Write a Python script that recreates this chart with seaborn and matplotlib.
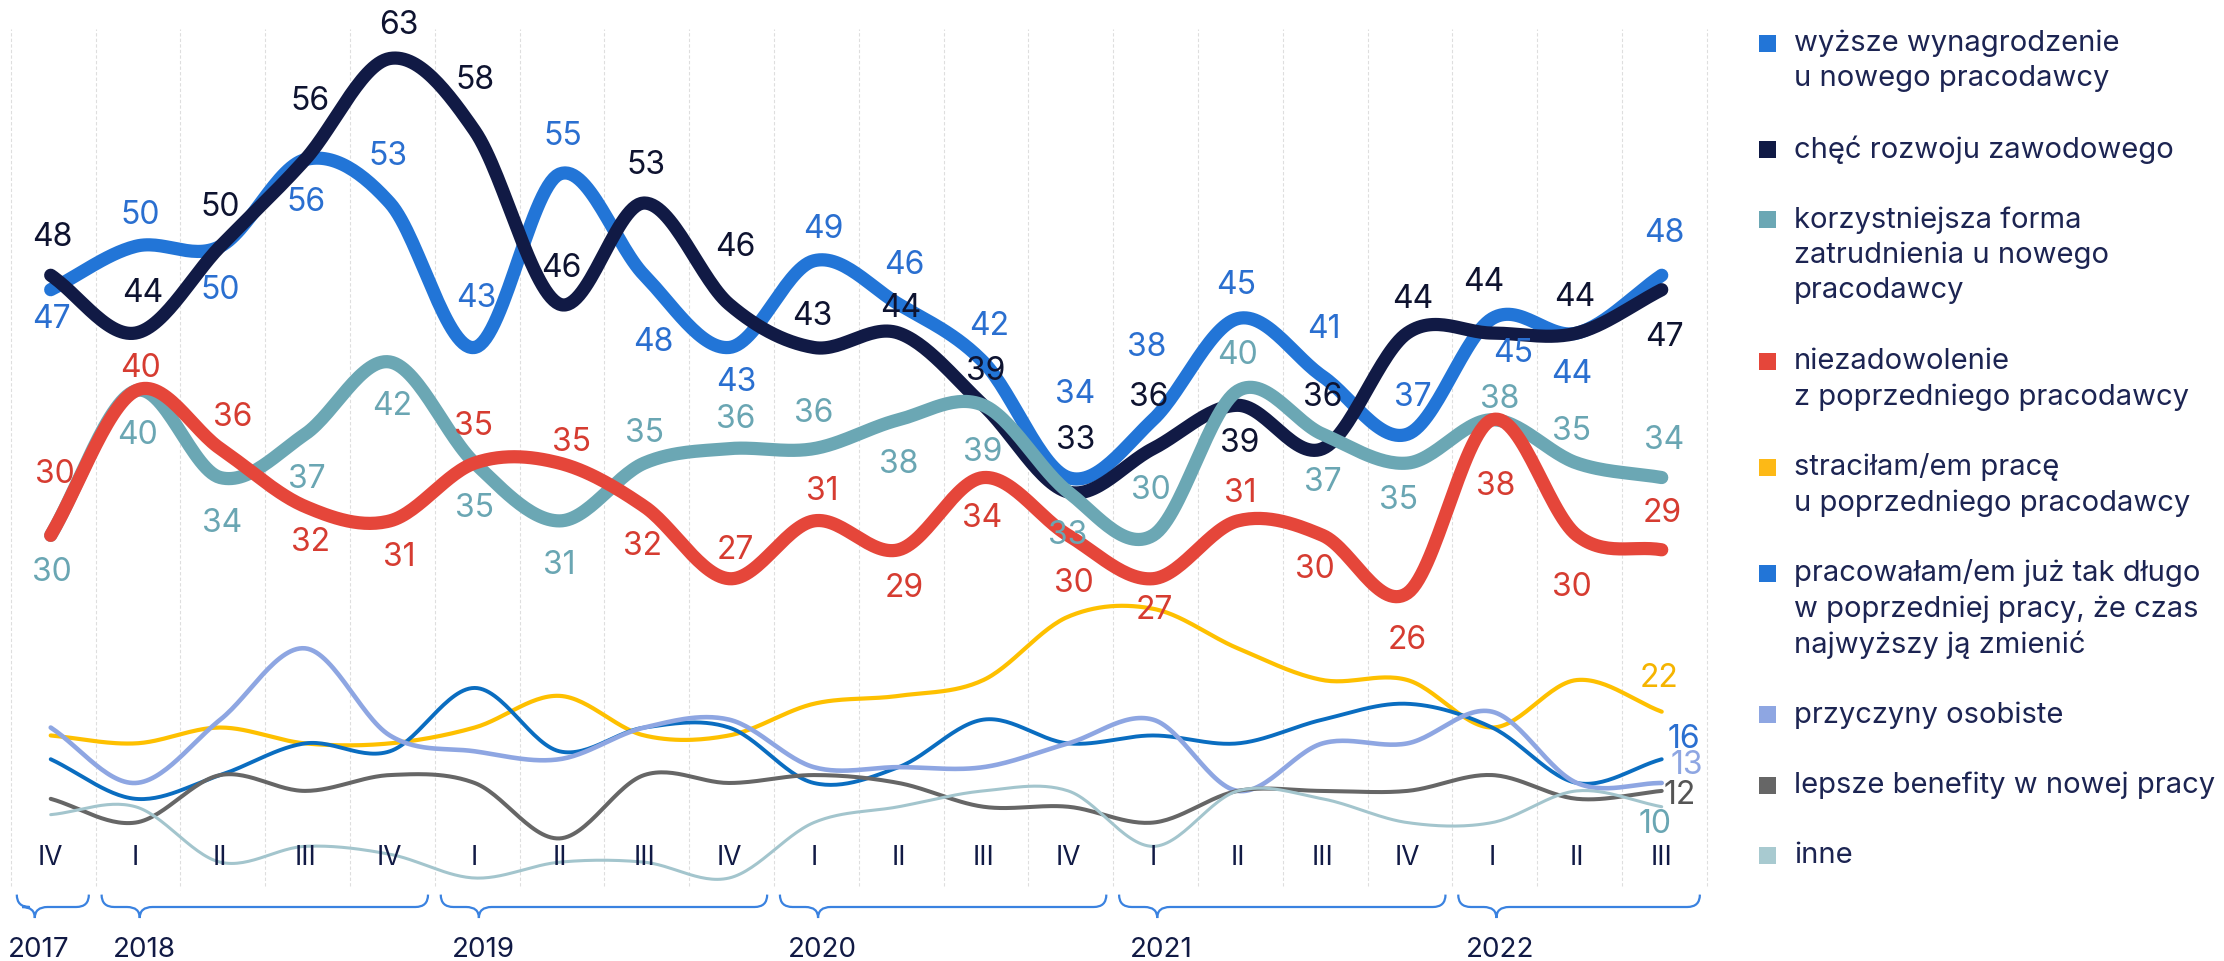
import numpy as np
import pandas as pd
import seaborn as sns
import matplotlib.pyplot as plt
import matplotlib.transforms as mtransforms
from matplotlib.path import Path
from matplotlib.patches import PathPatch, Rectangle

# ---- data -------------------------------------------------------------
quarters = ['IV', 'I', 'II', 'III', 'IV', 'I', 'II', 'III', 'IV', 'I',
            'II', 'III', 'IV', 'I', 'II', 'III', 'IV', 'I', 'II', 'III']
quarter_years = [2017, 2018, 2018, 2018, 2018, 2019, 2019, 2019, 2019, 2020,
                 2020, 2020, 2020, 2021, 2021, 2021, 2021, 2022, 2022, 2022]

# main series (labelled)
wyzsze = [47, 50, 50, 56, 53, 43, 55, 48, 43, 49, 46, 42, 34, 38, 45, 41, 37, 45, 44, 48]
rozwoj = [48, 44, 50, 56, 63, 58, 46, 53, 46, 43, 44, 39, 33, 36, 39, 36, 44, 44, 44, 47]
forma = [30, 40, 34, 37, 42, 35, 31, 35, 36, 36, 38, 39, 33, 30, 40, 37, 35, 38, 35, 34]
niezad = [30, 40, 36, 32, 31, 35, 35, 32, 27, 31, 29, 34, 30, 27, 31, 30, 26, 38, 30, 29]

# minor series (only last value labelled)
stracil = [19, 18, 20, 18, 18, 20, 24, 19, 19, 23, 24, 26, 34, 35, 30, 26, 26, 20, 26, 22]
dlugo = [16, 11, 14, 18, 17, 25, 17, 20, 20, 13, 15, 21, 18, 19, 18, 21, 23, 20, 13, 16]
osobiste = [20, 13, 21, 30, 19, 17, 16, 20, 21, 15, 15, 15, 18, 21, 12, 18, 18, 22, 13, 13]
benefity = [11, 8, 14, 12, 14, 13, 6, 14, 13, 14, 13, 10, 10, 8, 12, 12, 12, 14, 11, 12]
inne = [9, 10, 3, 5, 4, 1, 3, 3, 1, 8, 10, 12, 12, 5, 12, 11, 8, 8, 12, 10]

legend_labels = [
    'wyższe wynagrodzenie\nu nowego pracodawcy',
    'chęć rozwoju zawodowego',
    'korzystniejsza forma\nzatrudnienia u nowego\npracodawcy',
    'niezadowolenie\nz poprzedniego pracodawcy',
    'straciłam/em pracę\nu poprzedniego pracodawcy',
    'pracowałam/em już tak długo\nw poprzedniej pracy, że czas\nnajwyższy ją zmienić',
    'przyczyny osobiste',
    'lepsze benefity w nowej pracy',
    'inne',
]
legend_colors = ['#2275d7', '#101a45', '#6ba7b4', '#e5463a', '#fdb916',
                 '#2275d7', '#8ea6e2', '#666666', '#a8cad0']

# ---- label offsets (pixels, dx right / dy down) ------------------------
off_wyzsze = [(1, 30), (5, -31), (0, 44), (1, 43), (-2, -46), (2, -49), (3, -38), (9, 67),
              (7, 35), (9, -31), (6, -39), (6, -35), (7, -83), (-6, -72), (-2, -33),
              (1, -47), (5, -37), (21, 35), (-5, 41), (3, -42)]
off_rozwoj = [(2, -38), (7, -40), (0, -39), (5, -58), (9, -33), (0, -50), (2, -36), (2, -37),
              (6, -57), (-2, -31), (2, -25), (2, -34), (7, -51), (-4, -51), (2, 38),
              (0, -51), (5, -34), (-8, -51), (-2, -36), (3, 48)]
off_forma = [(1, 37), (2, 45), (2, 46), (2, 45), (2, 45), (0, 45), (0, 45), (0, -30),
             (7, -29), (0, -35), (0, 45), (-1, 47), (-1, 44), (-2, -45), (0, -35),
             (0, 48), (-9, 37), (8, -20), (-5, -32), (2, -37)]
off_niezad = [(4, -61), (5, -22), (12, -31), (5, 36), (9, 37), (-1, -37), (12, -21), (-2, 40),
              (6, -28), (8, -29), (6, 39), (-1, 41), (6, 48), (1, 32), (2, -27),
              (-8, 34), (0, 47), (4, 67), (-5, 52), (0, -36)]


def smooth(vals, n=30):
    """Catmull-Rom curve through the points (for drawing only)."""
    y = np.asarray(vals, dtype=float)
    m = np.gradient(y)
    xs, ys = [], []
    t = np.linspace(0, 1, n, endpoint=False)
    h00 = 2 * t**3 - 3 * t**2 + 1
    h10 = t**3 - 2 * t**2 + t
    h01 = -2 * t**3 + 3 * t**2
    h11 = t**3 - t**2
    for i in range(len(y) - 1):
        xs.append(i + t)
        ys.append(h00 * y[i] + h10 * m[i] + h01 * y[i + 1] + h11 * m[i + 1])
    xs.append([len(y) - 1])
    ys.append([y[-1]])
    return pd.DataFrame({'x': np.concatenate(xs), 'y': np.concatenate(ys)})


sns.set_theme(style='white')
plt.rcParams['font.family'] = ['Inter', 'DejaVu Sans']

W, H = 2224, 961
fig = plt.figure(figsize=(W / 100, H / 100), dpi=100)
rect = [0, 61 / H, 1712.6 / W, 880 / H]
ax_minor = fig.add_axes(rect)
ax = fig.add_axes(rect)
ax.patch.set_alpha(0)

# vertical grid lines between quarters
for k in range(len(quarters) + 1):
    ax_minor.axvline(k - 0.47, ymin=0.016, ymax=0.99, color='#dedede', lw=0.8,
                     ls=(0, (3, 2)), zorder=0)

# minor series
minor = [
    (stracil, '#fec000', 3.0, '#f5b400', (-3, -33)),
    (dlugo, '#0a6dc0', 2.8, '#2a6fd0', (22, -20)),
    (osobiste, '#8ea6e2', 3.3, '#8ea6e2', (25, -17)),
    (benefity, '#666666', 2.9, '#555555', (18, 5)),
    (inne, '#a3c5cd', 2.2, '#6aa6b3', (-7, 18)),
]
for vals, col, lw, tcol, (dx, dy) in minor:
    sns.lineplot(data=smooth(vals), x='x', y='y', ax=ax_minor, color=col, linewidth=lw,
                 sort=False, estimator=None, legend=False, solid_capstyle='round')
    ax_minor.annotate(str(vals[-1]), xy=(len(vals) - 1, vals[-1]), xytext=(dx, -dy),
                      textcoords='offset pixels', ha='center', va='center',
                      fontsize=23, color=tcol)

# main series
main = [
    (wyzsze, '#2275d7', '#2a6fd0', off_wyzsze),
    (rozwoj, '#111a45', '#0e1330', off_rozwoj),
    (forma, '#6ba7b4', '#6aa6b3', off_forma),
    (niezad, '#e5463a', '#d63c31', off_niezad),
]
for vals, col, tcol, offs in main:
    sns.lineplot(data=smooth(vals), x='x', y='y', ax=ax, color=col, linewidth=9.5,
                 sort=False, estimator=None, legend=False, solid_capstyle='round')
for vals, col, tcol, offs in main:
    for i, v in enumerate(vals):
        dx, dy = offs[i]
        ax.annotate(str(v), xy=(i, v), xytext=(dx, -dy), textcoords='offset pixels',
                    ha='center', va='center', fontsize=23, color=tcol, zorder=5)

for a in (ax, ax_minor):
    a.set_xlim(-0.598, 19.6)
    a.axis('off')
ax.set_ylim(4.765, 65.664)
ax_minor.set_ylim(-1.775, 109.336)

# quarter and year labels with braces
trans = mtransforms.blended_transform_factory(ax.transData, ax.transAxes)
for i, q in enumerate(quarters):
    ax.text(i, (900 - 858) / 880, q, transform=trans, ha='center', va='center',
            fontsize=19, color='#111a45')

y_top, y_bar, y_tip = (900 - 894.6) / 880, (900 - 907) / 880, (900 - 918) / 880
r = 0.15
for yr in sorted(set(quarter_years)):
    idx = [i for i, y in enumerate(quarter_years) if y == yr]
    x0, x1 = idx[0] - 0.4, idx[-1] + 0.45
    xt = x0 + min(0.45, 0.25 * (x1 - x0))
    verts = [(x0, y_top), (x0, y_bar), (x0 + r, y_bar), (xt - r, y_bar),
             (xt, y_bar), (xt, y_tip), (xt, y_bar), (xt + r, y_bar),
             (x1 - r, y_bar), (x1, y_bar), (x1, y_top)]
    codes = [Path.MOVETO, Path.CURVE3, Path.CURVE3, Path.LINETO,
             Path.CURVE3, Path.CURVE3, Path.CURVE3, Path.CURVE3,
             Path.LINETO, Path.CURVE3, Path.CURVE3]
    ax.add_patch(PathPatch(Path(verts, codes), transform=trans, fill=False,
                           edgecolor='#3a82e0', lw=1.6, clip_on=False))
    ax.text(xt + 0.05, (900 - 950) / 880, str(yr), transform=trans, ha='center',
            va='center', fontsize=20, color='#111a45', clip_on=False)

# legend on the right
y = 43.3
for lab, col in zip(legend_labels, legend_colors):
    fig.add_artist(Rectangle(((1767.5 - 8.5) / W, 1 - (y + 8.5) / H), 17 / W, 17 / H,
                             transform=fig.transFigure, facecolor=col, edgecolor='none'))
    lines = lab.split('\n')
    for j, line in enumerate(lines):
        fig.text(1794 / W, 1 - (y + j * 35.5) / H, line, ha='left', va='center',
                 fontsize=21, color='#1c2452')
    y += (len(lines) - 1) * 35.5 + 70.5

fig.savefig('out.png', dpi=100)
